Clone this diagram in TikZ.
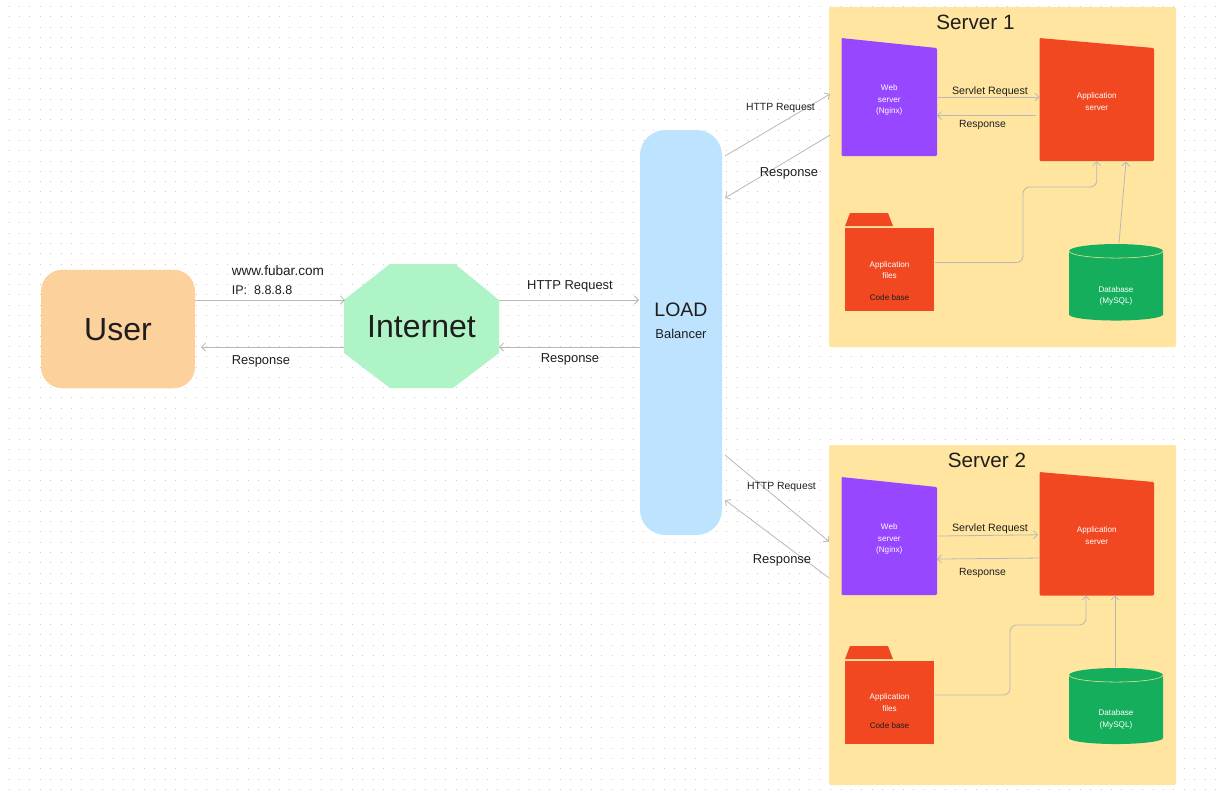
\documentclass[tikz,border=0pt]{standalone}
\usepackage{fontspec}
\setmainfont{Liberation Sans}
\usetikzlibrary{arrows.meta,positioning}
\definecolor{ink}{HTML}{1E1E1E}
\definecolor{wire}{HTML}{B8B8B8}
\definecolor{dotgray}{HTML}{CCCCCC}
\definecolor{userfill}{HTML}{FCD19C}
\definecolor{netfill}{HTML}{AFF4C6}
\definecolor{lbfill}{HTML}{BDE3FF}
\definecolor{srvfill}{HTML}{FFE5A0}
\definecolor{webfill}{HTML}{9747FF}
\definecolor{appfill}{HTML}{F24822}
\definecolor{dbfill}{HTML}{14AE5C}
\newcommand{\fsize}[2]{\fontsize{#1}{#2}\selectfont}

\begin{document}
\begin{tikzpicture}[
  x=0.75pt,y=-0.75pt,
  sized/.style n args={2}{minimum width=#1*0.75pt,minimum height=#2*0.75pt,inner sep=0pt,outer sep=0pt},
  bigtxt/.style={font=\fsize{24}{28},text=ink,text height=17.2pt,text depth=0pt},
  lbl/.style={font=\fsize{9.7}{12},text=ink,inner sep=0pt},
  midlbl/.style={font=\fsize{7.8}{10},text=ink,inner sep=0pt},
  svllbl/.style={font=\fsize{8}{10},text=ink,inner sep=0pt},
  title/.style={font=\fsize{15.5}{19},text=ink,inner sep=0pt},
  tiny/.style={font=\fsize{6.1}{8.6},text=white,align=center,inner sep=0pt},
  tinydark/.style={font=\fsize{6.1}{8.6},text=ink,inner sep=0pt},
  frame/.style={sized={347}{340},fill=srvfill,rounded corners=1.5pt},
  dotrow/.style={dotgray,line width=0.75pt,dash pattern=on 0.75pt off 7.05pt},
  slant/.style={path picture={
    \fill[#1,rounded corners=0.8pt] (path picture bounding box.north west)
      -- ([shift={(0,10)}]path picture bounding box.north east)
      -- (path picture bounding box.south east)
      -- (path picture bounding box.south west) -- cycle;}},
  octa/.style={path picture={
    \fill[netfill] ([shift={(0,36)}]path picture bounding box.north west)
      -- ([shift={(46,0)}]path picture bounding box.north west)
      -- ([shift={(-44,0)}]path picture bounding box.north east)
      -- ([shift={(0,36)}]path picture bounding box.north east)
      -- ([shift={(0,-35)}]path picture bounding box.south east)
      -- ([shift={(-46,0)}]path picture bounding box.south east)
      -- ([shift={(46,0)}]path picture bounding box.south west)
      -- ([shift={(0,-35)}]path picture bounding box.south west) -- cycle;}},
  folder/.style={sized={89}{98},path picture={
    \fill[appfill] ([shift={(0,13)}]path picture bounding box.north west)
      -- ([shift={(5,0)}]path picture bounding box.north west)
      -- ([shift={(43,0)}]path picture bounding box.north west)
      -- ([shift={(48,13)}]path picture bounding box.north west) -- cycle;
    \fill[appfill] ([shift={(0,14.5)}]path picture bounding box.north west)
      rectangle (path picture bounding box.south east);}},
  dbase/.style={path picture={
    \fill[dbfill] ([shift={(0,7)}]path picture bounding box.north west)
      arc[start angle=180,end angle=0,x radius=35.25pt,y radius=5.25pt]
      -- ([shift={(0,-6)}]path picture bounding box.south east)
      arc[start angle=0,end angle=-180,x radius=35.25pt,y radius=4.5pt] -- cycle;
    \draw[srvfill,line width=0.4pt] ([shift={(0,7)}]path picture bounding box.north west)
      arc[start angle=180,end angle=360,x radius=35.25pt,y radius=5.25pt];}},
  arr/.style={draw=wire,line width=0.6pt,-{Straight Barb[length=3pt,width=6pt]}}
]
\fill[white] (0,0) rectangle (1222,793);
\useasboundingbox (0,0) rectangle (1222,793);
\foreach \j in {0,...,76}
  \draw[dotrow] (8.5,6.5+\j*10.3)--(1222,6.5+\j*10.3);

\node[sized={154}{118.5},fill=userfill,rounded corners=16pt,bigtxt] (user) at (118,329) {User};
\node[sized={155}{124},octa,bigtxt,right=111.75pt of user,yshift=2.25pt] (internet) {Internet};
\node[sized={82}{405},fill=lbfill,rounded corners=19pt,right=105.75pt of internet,yshift=-4.875pt] (lb) {};
\node[font=\fsize{14.6}{17},text=ink,inner sep=0pt] (loadtxt) at ([shift={(0,-23)}]lb.center) {LOAD};
\node[lbl] (baltxt) at ([shift={(0,1.5)}]lb.center) {Balancer};

\node[frame,right=80.25pt of lb,yshift=116.6pt] (server1) {};
\node[frame,right=80.25pt of lb,yshift=-211.9pt] (server2) {};
\node[title] (title1) at (975.5,22) {Server 1};
\node[title] (title2) at (987,460.5) {Server 2};

\node[sized={95.5}{118},slant=webfill,below right=23.25pt and 9.375pt of server1.north west] (web1) {};
\node[tiny] (webtxt1) at ([shift={(0,3)}]web1.center) {Web\\server\\(Nginx)};
\node[sized={114.5}{123},slant=appfill,below right=23.25pt and 157.875pt of server1.north west] (app1) {};
\node[tiny] (apptxt1) at ([shift={(0,2)}]app1.center) {Application\\server};
\node[folder,below right=154.5pt and 12pt of server1.north west] (folder1) {};
\node[tiny] (files1) at ([shift={(0,8)}]folder1.center) {Application\\files};
\node[tinydark] (base1) at ([shift={(0,35.5)}]folder1.center) {Code base};
\node[sized={94}{76.5},dbase,below right=177.75pt and 180pt of server1.north west] (db1) {};
\node[tiny] (dbtxt1) at ([shift={(0,13.5)}]db1.center) {Database\\(MySQL)};

\node[sized={95.5}{118},slant=webfill,below right=24pt and 9.375pt of server2.north west] (web2) {};
\node[tiny] (webtxt2) at ([shift={(0,3)}]web2.center) {Web\\server\\(Nginx)};
\node[sized={114.5}{123.5},slant=appfill,below right=20.25pt and 157.875pt of server2.north west] (app2) {};
\node[tiny] (apptxt2) at ([shift={(0,2)}]app2.center) {Application\\server};
\node[folder,below right=150.75pt and 12pt of server2.north west] (folder2) {};
\node[tiny] (files2) at ([shift={(0,7.5)}]folder2.center) {Application\\files};
\node[tinydark] (base2) at ([shift={(0,30.7)}]folder2.center) {Code base};
\node[sized={94}{76},dbase,below right=167.25pt and 180pt of server2.north west] (db2) {};
\node[tiny] (dbtxt2) at ([shift={(0,13.5)}]db2.center) {Database\\(MySQL)};

\draw[arr] ([shift={(0,-29)}]user.east)--([shift={(1,-26)}]internet.west);
\draw[arr] ([shift={(0,21)}]internet.west)--([shift={(6,18)}]user.east);
\draw[arr] ([shift={(0,-26)}]internet.east)--([shift={(-1,-32.5)}]lb.west);
\draw[arr] ([shift={(0,14.5)}]lb.west)--([shift={(0,21)}]internet.east);
\draw[arr] ([shift={(3,-176.5)}]lb.east)--([shift={(-11.5,-3)}]web1.west);
\draw[arr] ([shift={(-11.5,38)}]web1.west)--([shift={(3,-134.5)}]lb.east);
\draw[arr] ([shift={(3,122.5)}]lb.east)--([shift={(-12.5,5.5)}]web2.west);
\draw[arr] ([shift={(-12.5,42)}]web2.west)--([shift={(3,167.5)}]lb.east);
\draw[arr] ([shift={(1,0)}]web1.east)--([shift={(0,-2.5)}]app1.west);
\draw[arr] ([shift={(-3.5,16)}]app1.west)--([shift={(0,18.5)}]web1.east);
\draw[arr] ([shift={(1,0)}]web2.east)--([shift={(-1.5,1)}]app2.west);
\draw[arr] ([shift={(-0.5,24.25)}]app2.west)--([shift={(0,23)}]web2.east);
\draw[arr,rounded corners=5pt] ([shift={(1,0.5)}]folder1.east)--++(88,0)--++(0,-75.5)-|(app1.south);
\draw[arr] ([shift={(3,-1)}]db1.north)--([shift={(29.25,0.5)}]app1.south);
\draw[arr,rounded corners=5pt] ([shift={(1,0)}]folder2.east)--++(75,0)--++(0,-70)-|([shift={(-10.75,0)}]app2.south);
\draw[arr] ([shift={(-1,-1)}]db2.north)--([shift={(-1,0)}]db2.north|-app2.south);

\node[lbl,align=left,anchor=west,font=\fsize{10.2}{14.25}] (addr) at (231.5,280) {www.fubar.com\\{\fsize{9.4}{14.25}IP:~~8.8.8.8}};
\node[lbl,anchor=west] (resp0) at (231.5,361.5) {Response};
\node[lbl] (req1) at (570,286.5) {HTTP Request};
\node[lbl] (resp1) at (570,359.5) {Response};
\node[midlbl] (req2) at (780.5,108) {HTTP Request};
\node[lbl] (resp2) at (789,173) {Response};
\node[midlbl] (req3) at (781.5,487) {HTTP Request};
\node[lbl] (resp3) at (782,560.5) {Response};
\node[svllbl] (svl1) at (990,92) {Servlet Request};
\node[midlbl] (resp4) at (982.5,124.5) {Response};
\node[svllbl] (svl2) at (990,529) {Servlet Request};
\node[midlbl] (resp5) at (982.5,573) {Response};
\end{tikzpicture}
\end{document}
